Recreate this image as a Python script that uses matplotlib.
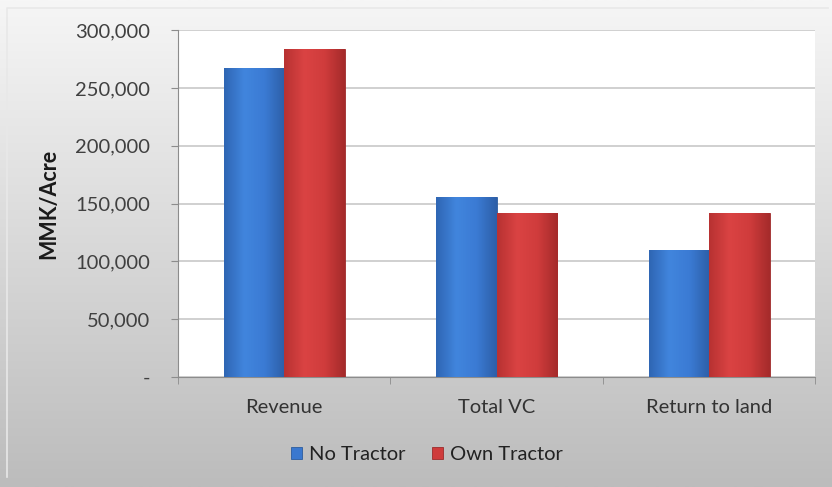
import numpy as np
import matplotlib.pyplot as plt
from matplotlib.ticker import FuncFormatter
from matplotlib.colors import LinearSegmentedColormap

categories = ["Revenue", "Total VC", "Return to land"]
no_tractor = [267000, 156000, 110000]
own_tractor = [284000, 142000, 142000]
series_names = ["No Tractor", "Own Tractor"]

plt.rcParams['font.family'] = ['Lato', 'DejaVu Sans']

fig = plt.figure(figsize=(8.32, 4.87), dpi=100)

# gray gradient background of the chart area
bg = fig.add_axes([0, 0, 1, 1], zorder=-10)
grad = np.linspace(0, 1, 256).reshape(-1, 1)
bg_cmap = LinearSegmentedColormap.from_list("bg", ["#f6f6f6", "#bcbcbc"])
bg.imshow(grad, aspect='auto', cmap=bg_cmap, extent=[0, 1, 0, 1], origin='upper')
bg.plot([0.009, 0.009, 0.995], [0.02, 0.984, 0.984], color="#e8e8e8", lw=1.2)
bg.set_xlim(0, 1)
bg.set_ylim(0, 1)
bg.axis('off')

ax = fig.add_axes([0.214, 0.226, 0.766, 0.712])
ax.set_facecolor('white')

x = np.arange(len(categories))
w = 0.285
b1 = ax.bar(x - w / 2, no_tractor, w, color="#3a78cf", edgecolor="#2c5c9e", lw=0.6, label=series_names[0], zorder=3)
b2 = ax.bar(x + w / 2, own_tractor, w, color="#cf3b3b", edgecolor="#9c2b2b", lw=0.6, label=series_names[1], zorder=3)

# horizontal shading inside each bar
blue_cmap = LinearSegmentedColormap.from_list("b", ["#2f66b4", "#4185dd", "#3b7bd4", "#2d5fa8"])
red_cmap = LinearSegmentedColormap.from_list("r", ["#b83232", "#da4343", "#d03c3c", "#a52b2b"])
hgrad = np.linspace(0, 1, 64).reshape(1, -1)
for bars, cm in [(b1, blue_cmap), (b2, red_cmap)]:
    for bar in bars:
        x0, y0 = bar.get_x(), bar.get_y()
        im = ax.imshow(hgrad, aspect='auto', cmap=cm, zorder=3.5,
                       extent=[x0, x0 + bar.get_width(), y0, y0 + bar.get_height()])
        im.set_clip_path(bar)

ax.set_xlim(-0.5, len(categories) - 0.5)
ax.set_ylim(0, 300000)
ax.set_yticks(np.arange(0, 300001, 50000))
ax.yaxis.set_major_formatter(FuncFormatter(lambda v, p: "-" if v == 0 else f"{int(v):,}"))
ax.grid(axis='y', color="#c8c8c8", lw=1.2, zorder=0)

ax.set_xticks(x)
ax.set_xticklabels(categories)
ax.set_xticks(np.arange(-0.5, len(categories), 1), minor=True)
ax.tick_params(axis='x', which='major', length=0, pad=16, labelsize=14.5, labelcolor="#333333")
ax.tick_params(axis='x', which='minor', length=5, color="#8c8c8c", direction='out')
ax.tick_params(axis='y', length=5, color="#8c8c8c", pad=15, labelsize=14.5, labelcolor="#404040")

for s in ['top', 'right']:
    ax.spines[s].set_visible(False)
for s in ['left', 'bottom']:
    ax.spines[s].set_color("#8c8c8c")

fig.text(0.058, 0.582, "MMK/Acre", rotation=90, ha='center', va='center',
         fontsize=15.5, fontweight='bold', color="#1a1a1a")

leg = fig.legend(loc='center', bbox_to_anchor=(0.513, 0.066), ncol=2, frameon=False,
                 fontsize=14.5, handlelength=0.55, handleheight=0.55, handletextpad=0.35,
                 columnspacing=1.3, labelcolor="#222222")

fig.savefig("out.png", dpi=100)
